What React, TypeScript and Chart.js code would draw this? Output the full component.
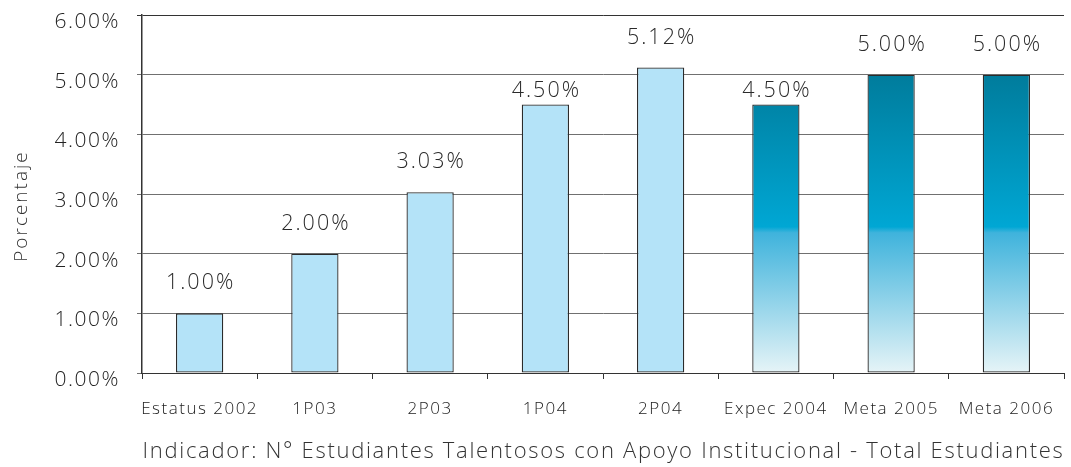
import React, { useEffect, useRef } from "react";
import { Chart, registerables } from "chart.js";

Chart.register(...registerables);

const categories = ["Estatus 2002", "1P03", "2P03", "1P04", "2P04", "Expec 2004", "Meta 2005", "Meta 2006"];
const values = [1.0, 2.0, 3.03, 4.5, 5.12, 4.5, 5.0, 5.0];
const valueLabels = ["1.00%", "2.00%", "3.03%", "4.50%", "5.12%", "4.50%", "5.00%", "5.00%"];
const isTarget = [false, false, false, false, false, true, true, true];
const labelLift = [30, 30, 30, 14, 30, 14, 30, 30];
const yTicks = [0, 1, 2, 3, 4, 5, 6];
const yTitle = "Porcentaje";
const xTitle = "Indicador: N° Estudiantes Talentosos con Apoyo Institucional - Total Estudiantes";

const FONT = "'Open Sans', 'Noto Sans', sans-serif";

const spacingPlugin = {
  id: "spacing",
  beforeDraw(chart: any) {
    (chart.ctx as any).letterSpacing = "1.5px";
  },
};

const labelPlugin = {
  id: "valueLabels",
  afterDraw(chart: any) {
    const ctx = chart.ctx as any;
    const meta = chart.getDatasetMeta(0);
    ctx.save();
    ctx.letterSpacing = "2px";
    ctx.font = `300 21.5px ${FONT}`;
    ctx.fillStyle = "#2a2a2a";
    ctx.textAlign = "center";
    ctx.textBaseline = "middle";
    meta.data.forEach((bar: any, i: number) => {
      ctx.fillText(valueLabels[i], bar.x + 1, bar.y - labelLift[i]);
    });
    // axis titles
    const area = chart.chartArea;
    ctx.letterSpacing = "1.7px";
    ctx.font = `300 22px ${FONT}`;
    ctx.fillStyle = "#333333";
    ctx.fillText(xTitle, (area.left + chart.width) / 2 - 3, chart.height - 15);
    ctx.translate(22, (area.top + area.bottom) / 2 + 12);
    ctx.rotate(-Math.PI / 2);
    ctx.letterSpacing = "2px";
    ctx.font = `300 19px ${FONT}`;
    ctx.fillText(yTitle, 0, 0);
    ctx.restore();
  },
};

export default function App() {
  const ref = useRef<HTMLCanvasElement>(null);
  useEffect(() => {
    document.body.style.margin = "0";
    const canvas = ref.current!;
    const chart = new Chart(canvas, {
      type: "bar",
      data: {
        labels: categories,
        datasets: [
          {
            data: values,
            backgroundColor: (c: any) => {
              const i = c.dataIndex;
              if (!isTarget[i]) return "#b4e3f8";
              const ch = c.chart;
              const ys = ch.scales?.y;
              if (!ys) return "#00a6d2";
              const g = ch.ctx.createLinearGradient(0, ys.getPixelForValue(5), 0, ys.getPixelForValue(0));
              g.addColorStop(0, "#007c9c");
              g.addColorStop(0.51, "#00a7d4");
              g.addColorStop(0.53, "#3fb3dc");
              g.addColorStop(1, "#e6f4f7");
              return g;
            },
            borderColor: "#2b2b2b",
            borderWidth: 1.3,
            borderSkipped: false,
            barPercentage: 0.41,
            categoryPercentage: 1,
          },
        ],
      },
      options: {
        animation: false,
        responsive: false,
        maintainAspectRatio: false,
        layout: { padding: { left: 0, right: 7, top: 15, bottom: 0 } },
        plugins: { legend: { display: false }, tooltip: { enabled: false } },
        scales: {
          x: {
            grid: { drawOnChartArea: false, offset: true, tickLength: 6, color: "#333333" },
            border: { color: "#333333", width: 1 },
            ticks: { font: { family: FONT, size: 17, weight: "300" }, color: "#222222", padding: 20, maxRotation: 0 },
            title: { display: false },
            afterFit: (s: any) => { s.height = 94; s.paddingLeft = 0; s.paddingRight = 0; },
          },
          y: {
            min: 0,
            max: 6,
            afterBuildTicks: (s: any) => { s.ticks = yTicks.map((v) => ({ value: v })); },
            grid: { color: (c: any) => (c.tick && c.tick.value === 6 ? "#333333" : "#707070"), tickLength: 5 },
            border: { color: "#333333", width: 1.5 },
            ticks: { font: { family: FONT, size: 21, weight: "300" }, color: "#222222", padding: 17, labelOffset: 7, callback: (v: any) => Number(v).toFixed(2) + "%" },
            title: { display: false },
            afterFit: (s: any) => { s.width = 142; s.paddingTop = 0; s.paddingBottom = 0; },
          },
        },
      },
      plugins: [spacingPlugin, labelPlugin],
    });
    return () => chart.destroy();
  }, []);
  return <canvas ref={ref} width={1071} height={467} style={{ display: "block" }} />;
}
